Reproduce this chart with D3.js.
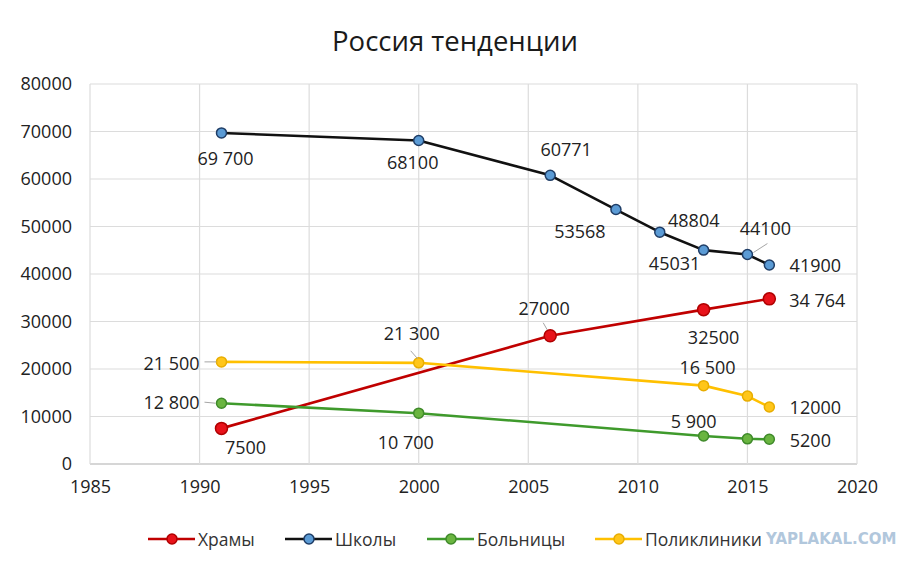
<!DOCTYPE html>
<html>
<head>
<meta charset="utf-8">
<script src="https://cdn.jsdelivr.net/npm/d3@7.9.0/dist/d3.min.js"></script>
<style>
  body { margin: 0; background: #fff; }
  svg text { font-family: "Open Sans", sans-serif; fill: #222; }
</style>
</head>
<body>
<svg id="chart" width="900" height="566"></svg>
<script>
// ---- data ----
const xTicks = [1985, 1990, 1995, 2000, 2005, 2010, 2015, 2020];
const yTicks = [0, 10000, 20000, 30000, 40000, 50000, 60000, 70000, 80000];

const hramyYears  = [1991, 2006, 2013, 2016];
const hramyValues = [7500, 27000, 32500, 34764];
const hramyLabels = ['7500', '27000', '32500', '34 764'];

const shkolyYears  = [1991, 2000, 2006, 2009, 2011, 2013, 2015, 2016];
const shkolyValues = [69700, 68100, 60771, 53568, 48804, 45031, 44100, 41900];
const shkolyLabels = ['69 700', '68100', '60771', '53568', '48804', '45031', '44100', '41900'];

const bolnYears  = [1991, 2000, 2013, 2015, 2016];
const bolnValues = [12800, 10700, 5900, 5300, 5200];
const bolnLabels = ['12 800', '10 700', '5 900', null, '5200'];

const polyYears  = [1991, 2000, 2013, 2015, 2016];
const polyValues = [21500, 21300, 16500, 14300, 12000];
const polyLabels = ['21 500', '21 300', '16 500', null, '12000'];

// label placement (px offsets from the marker) and optional leader lines
const hramyOffsets  = [[24, 19], [-6, -28], [10, 27], [48, 1]];
const shkolyOffsets = [[4, 25], [-6, 21], [16, -26], [-36, 21], [34, -12], [-29, 13], [18, -27], [46, 0]];
const bolnOffsets   = [[-50, -1], [-13, 29], [-10, -15], null, [41, 1]];
const polyOffsets   = [[-50, 1], [-7, -30], [4, -19], null, [46, 0]];
const hramyLeaders  = [null, [-7, -13, -3, -6], null, null];
const shkolyLeaders = [null, null, null, null, null, null, [20, -11, 6, -2], null];
const bolnLeaders   = [[-17, -1, -6, 0], null, null, null, null];
const polyLeaders   = [[-17, 0, -5, 0], [-8, -12, -1, -4], null, null, null];

const series = [
  { name: 'Храмы', years: hramyYears, values: hramyValues, labels: hramyLabels,
    offsets: hramyOffsets, leaders: hramyLeaders,
    line: '#c00000', fill: '#e8121a', stroke: '#b00000', r: 6 },
  { name: 'Школы', years: shkolyYears, values: shkolyValues, labels: shkolyLabels,
    offsets: shkolyOffsets, leaders: shkolyLeaders,
    line: '#111111', fill: '#5b9bd5', stroke: '#1f3d66', r: 5 },
  { name: 'Больницы', years: bolnYears, values: bolnValues, labels: bolnLabels,
    offsets: bolnOffsets, leaders: bolnLeaders,
    line: '#3f9a2c', fill: '#6ab540', stroke: '#3f8a2a', r: 5 },
  { name: 'Поликлиники', years: polyYears, values: polyValues, labels: polyLabels,
    offsets: polyOffsets, leaders: polyLeaders,
    line: '#ffc000', fill: '#ffc61a', stroke: '#e8ad00', r: 5 }
];

// ---- layout ----
const svg = d3.select('#chart');
const plot = { left: 90, right: 857, top: 84, bottom: 464 };

const x = d3.scaleLinear().domain([1985, 2020]).range([plot.left, plot.right]);
const y = d3.scaleLinear().domain([0, 80000]).range([plot.bottom, plot.top]);

svg.append('text')
   .attr('x', 455).attr('y', 40)
   .attr('text-anchor', 'middle').attr('dominant-baseline', 'central')
   .style('font-size', '27.5px').style('fill', '#1a1a1a')
   .text('Россия тенденции');

// grid
const grid = svg.append('g');
grid.selectAll('line.h').data(yTicks).join('line')
    .attr('x1', plot.left).attr('x2', plot.right)
    .attr('y1', d => y(d)).attr('y2', d => y(d))
    .attr('stroke', d => d === 0 ? '#c8c8c8' : '#dcdcdc').attr('stroke-width', d => d === 0 ? 1.5 : 1.2);
grid.selectAll('line.v').data(xTicks).join('line')
    .attr('y1', plot.top).attr('y2', plot.bottom)
    .attr('x1', d => x(d)).attr('x2', d => x(d))
    .attr('stroke', '#dcdcdc').attr('stroke-width', 1.2);

// axes (labels only, as in the picture)
const yAxis = svg.append('g')
  .attr('transform', `translate(${plot.left - 18},0)`)
  .call(d3.axisLeft(y).tickValues(yTicks).tickSize(0).tickPadding(0).tickFormat(d3.format('d')));
yAxis.select('.domain').remove();
yAxis.selectAll('text').style('font-size', '18px').style('font-family', '"Open Sans", sans-serif').attr('fill', '#333');

const xAxis = svg.append('g')
  .attr('transform', `translate(0,${plot.bottom + 16})`)
  .call(d3.axisBottom(x).tickValues(xTicks).tickSize(0).tickPadding(0).tickFormat(d3.format('d')));
xAxis.select('.domain').remove();
xAxis.selectAll('text').style('font-size', '18px').style('font-family', '"Open Sans", sans-serif').attr('fill', '#333');

// lines and markers
const line = d3.line().x(d => x(d[0])).y(d => y(d[1]));

series.forEach(s => {
  const pts = s.years.map((yr, i) => [yr, s.values[i]]);
  svg.append('path')
     .attr('d', line(pts))
     .attr('fill', 'none').attr('stroke', s.line).attr('stroke-width', 2.6)
     .attr('stroke-linejoin', 'round');
});

series.forEach(s => {
  const pts = s.years.map((yr, i) => [yr, s.values[i]]);
  svg.append('g').selectAll('circle').data(pts).join('circle')
     .attr('cx', d => x(d[0])).attr('cy', d => y(d[1])).attr('r', s.r)
     .attr('fill', s.fill).attr('stroke', s.stroke).attr('stroke-width', 1.5);
});

// data labels
series.forEach(s => {
  s.years.forEach((yr, i) => {
    if (!s.labels[i]) return;
    const px = x(yr), py = y(s.values[i]);
    const [dx, dy] = s.offsets[i];
    const ld = s.leaders[i];
    if (ld) {
      svg.append('line')
         .attr('x1', px + ld[0]).attr('y1', py + ld[1])
         .attr('x2', px + ld[2]).attr('y2', py + ld[3])
         .attr('stroke', '#a6a6a6').attr('stroke-width', 1);
    }
    svg.append('text')
       .attr('x', px + dx).attr('y', py + dy)
       .attr('text-anchor', 'middle').attr('dominant-baseline', 'central')
       .style('font-size', '18px')
       .text(s.labels[i]);
  });
});

// legend
const legendX = [148, 285, 427, 595];
const legend = svg.append('g');
series.forEach((s, i) => {
  const g = legend.append('g').attr('transform', `translate(${legendX[i]},539)`);
  g.append('line').attr('x1', 0).attr('x2', 47).attr('y1', 0).attr('y2', 0)
   .attr('stroke', s.line).attr('stroke-width', 2.6);
  g.append('circle').attr('cx', 24).attr('cy', 0).attr('r', 5)
   .attr('fill', s.fill).attr('stroke', s.stroke).attr('stroke-width', 1.5);
  g.append('text').attr('x', 50).attr('y', 0)
   .attr('dominant-baseline', 'central')
   .style('font-size', '17.5px').style('fill', '#333')
   .text(s.name);
});

// watermark
svg.append('text')
   .attr('x', 766).attr('y', 539).attr('dominant-baseline', 'central')
   .style('font-size', '15px').style('font-weight', 'bold').style('font-family', '"DejaVu Sans", sans-serif')
   .style('fill', '#a9c1d9').style('opacity', 0.9)
   .text('YAPLAKAL.COM');
</script>
</body>
</html>
